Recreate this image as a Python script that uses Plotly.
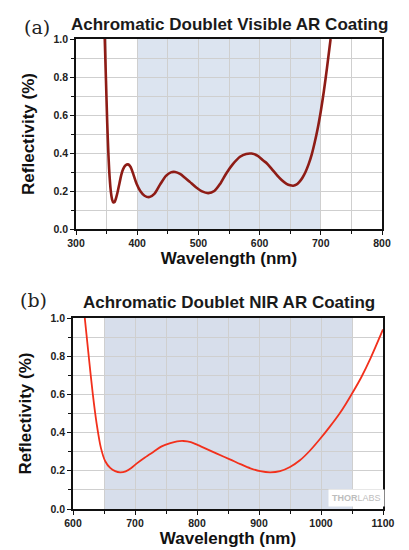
import plotly.graph_objects as go

# (a) visible AR coating
vis_nm = [347, 349, 351, 353, 355, 357, 359, 361, 363, 365, 368, 371, 374, 377, 381, 385,
          389, 394, 399, 405, 412, 420, 428, 437, 447, 455, 462, 470, 478, 486, 496, 506,
          516, 526, 536, 546, 556, 568, 578, 587, 597, 606, 612, 620, 628, 636, 644, 650,
          655, 660, 665, 670, 675, 680, 685, 690, 695, 700, 705, 710, 716]
vis_r = [1.0, 0.78, 0.56, 0.39, 0.27, 0.195, 0.155, 0.14, 0.142, 0.158, 0.195, 0.24, 0.285,
         0.315, 0.335, 0.34, 0.328, 0.285, 0.238, 0.2, 0.175, 0.168, 0.185, 0.232, 0.28,
         0.298, 0.3, 0.29, 0.27, 0.248, 0.22, 0.198, 0.189, 0.2, 0.24, 0.295, 0.34, 0.38,
         0.395, 0.397, 0.385, 0.36, 0.345, 0.315, 0.285, 0.258, 0.238, 0.23, 0.228, 0.233,
         0.248, 0.27, 0.3, 0.34, 0.39, 0.455, 0.53, 0.62, 0.725, 0.845, 1.0]

# (b) NIR AR coating
nir_nm = [619, 626, 632, 638, 645, 652, 660, 668, 676, 685, 694, 703, 716, 730, 743, 757,
          768, 778, 790, 800, 815, 832, 853, 870, 886, 902, 918, 934, 950, 966, 982, 998,
          1014, 1030, 1040, 1052, 1065, 1080, 1100]
nir_r = [1.0, 0.78, 0.6, 0.45, 0.32, 0.25, 0.215, 0.198, 0.192, 0.197, 0.215, 0.239, 0.27,
         0.3, 0.328, 0.345, 0.354, 0.356, 0.35, 0.337, 0.315, 0.29, 0.26, 0.235, 0.213,
         0.198, 0.192, 0.198, 0.22, 0.255, 0.305, 0.365, 0.43, 0.5, 0.55, 0.615, 0.69,
         0.79, 0.94]

# the page puts the figure 8px in from the window corner
OFF = 8
W, H = 401, 542


def px_x(a, b):
    return [(a - OFF) / W, (b - OFF) / W]


def px_y(top, bottom):
    return [(H - bottom + OFF) / H, (H - top + OFF) / H]


def pos(x, y):
    return (x - OFF) / W, (H - y + OFF) / H


fig = go.Figure()
fig.add_trace(go.Scatter(x=vis_nm, y=vis_r, mode="lines",
                         line=dict(color="#8e1c16", width=2.6, shape="spline", smoothing=0.8),
                         xaxis="x", yaxis="y"))
fig.add_trace(go.Scatter(x=nir_nm, y=nir_r, mode="lines",
                         line=dict(color="#f2301c", width=1.8, shape="spline", smoothing=0.8),
                         xaxis="x2", yaxis="y2"))

tickfont = dict(family="Liberation Sans, Arial", size=10.5, color="#222", weight="bold")
titlefont = dict(family="Liberation Sans, Arial", size=17, color="#111", weight="bold")
grid_minor = dict(ticks="outside", ticklen=3, tickcolor="#111", showgrid=True,
                  gridcolor="#cfcfcf", gridwidth=1)
common = dict(showgrid=True, gridcolor="#cfcfcf", gridwidth=1,
              showline=True, linecolor="#111", linewidth=1.5, mirror=True,
              ticks="outside", ticklen=4, tickwidth=1.2, tickcolor="#111",
              tickfont=tickfont, zeroline=False, automargin=False, fixedrange=True)
xtitle = dict(text="Wavelength (nm)", font=titlefont, standoff=3)
ytitle = dict(text="Reflectivity (%)", font=titlefont, standoff=15)

fig.update_layout(
    width=W, height=H, margin=dict(l=0, r=0, t=0, b=0),
    paper_bgcolor="white", plot_bgcolor="white", showlegend=False,
    xaxis=dict(common, domain=px_x(76, 382), range=[300, 800], dtick=100,
               minor=dict(grid_minor, dtick=50), anchor="y", title=xtitle),
    yaxis=dict(common, domain=px_y(39, 229), range=[0, 1.0], dtick=0.2, tickformat=".1f",
               minor=dict(grid_minor, dtick=0.1), anchor="x", title=ytitle),
    xaxis2=dict(common, domain=px_x(73, 383), range=[600, 1100], dtick=100,
                minor=dict(grid_minor, dtick=50), anchor="y2", title=xtitle),
    yaxis2=dict(common, domain=px_y(318, 509), range=[0, 1.0], dtick=0.2, tickformat=".1f",
                minor=dict(grid_minor, dtick=0.1), anchor="x2", title=ytitle),
    shapes=[
        dict(type="rect", xref="x", yref="y domain", x0=400, x1=700, y0=0, y1=1,
             fillcolor="#dce4f0", line_width=0, layer="below"),
        dict(type="rect", xref="x2", yref="y2 domain", x0=650, x1=1050, y0=0, y1=1,
             fillcolor="#d7deeb", line_width=0, layer="below"),
    ],
)

labels = [("(a)", 22, 27, "left", dict(family="DejaVu Serif", size=19, color="#222")),
          ("(b)", 18, 300, "left", dict(family="DejaVu Serif", size=19, color="#222")),
          ("Achromatic Doublet Visible AR Coating", 229, 24, "center",
           dict(family="Liberation Sans, Arial", size=17, color="#1a1a1a", weight="bold")),
          ("Achromatic Doublet NIR AR Coating", 229, 302, "center",
           dict(family="Liberation Sans, Arial", size=17, color="#1a1a1a", weight="bold"))]
for text, x, y, anchor, font in labels:
    px, py = pos(x, y)
    fig.add_annotation(text=text, x=px, y=py, xref="paper", yref="paper",
                       xanchor=anchor, yanchor="middle", showarrow=False, font=font)

fig.add_annotation(text="<b>THOR</b>LABS", x=1058, y=0.06, xref="x2", yref="y2",
                   xanchor="center", yanchor="middle", showarrow=False, bgcolor="white",
                   borderpad=3, font=dict(family="Liberation Sans, Arial", size=9, color="#bdbdbd"))

fig.write_html("out.html")
